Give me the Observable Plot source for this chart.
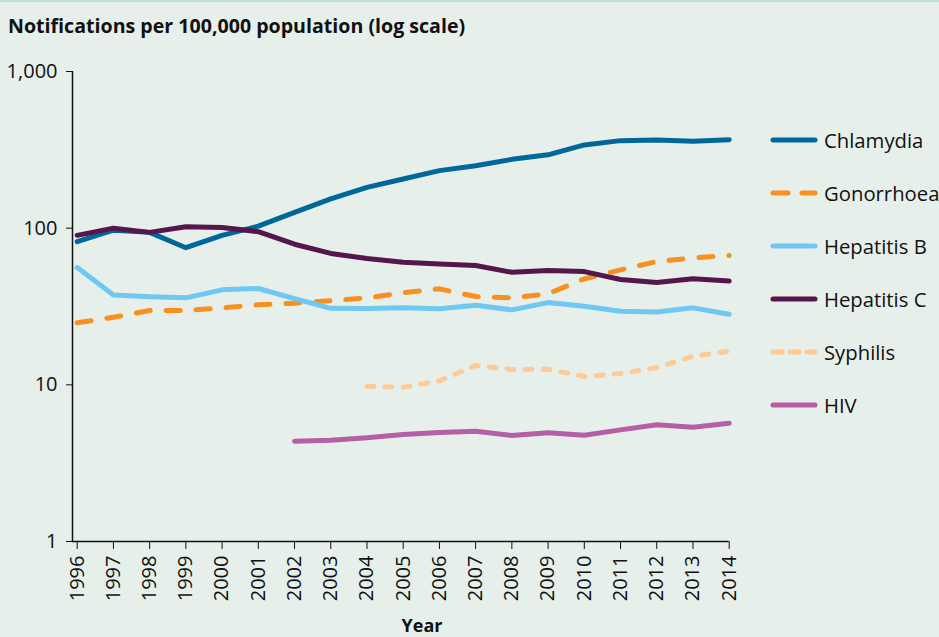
<!DOCTYPE html>
<html><head><meta charset="utf-8">
<script src="https://cdn.jsdelivr.net/npm/d3@7"></script>
<script src="https://cdn.jsdelivr.net/npm/@observablehq/plot@0.6"></script>
<style>
html,body{margin:0;padding:0;background:#e6efea;}
#wrap{position:relative;width:939px;height:637px;overflow:hidden;background:#e6efea;font-family:"Open Sans",sans-serif;color:#111;}
#topline{position:absolute;left:0;top:0;width:939px;height:2px;background:#bfe0da;}
#title{position:absolute;left:8px;top:13px;font-size:19.6px;font-weight:700;white-space:nowrap;line-height:26px;}
#chart{position:absolute;left:0;top:50px;}
#xlabel{position:absolute;left:422px;top:613px;transform:translateX(-50%);font-size:18px;font-weight:700;}
#legend{position:absolute;left:770px;top:126px;}
.item{height:53px;display:flex;align-items:flex-start;}
.item svg{margin-top:7px;}
.item span{font-size:20.3px;margin-left:6px;line-height:28px;}
</style></head>
<body>
<div id="wrap">
<div id="topline"></div>
<div id="title">Notifications per 100,000 population (log scale)</div>
<div id="chart"></div>
<div id="xlabel">Year</div>
<div id="legend"></div>
</div>
<script>
const years = [1996,1997,1998,1999,2000,2001,2002,2003,2004,2005,2006,2007,2008,2009,2010,2011,2012,2013,2014];
const chlamydia  = [82,97,94,75,90,103,126,154,182,206,233,250,275,294,340,362,366,359,367];
const gonorrhoea = [24.9,27,29.8,29.8,31,32.4,33.2,34.4,35.9,38.7,41,36.6,35.9,38.1,47.5,54.2,61.2,64.6,66.9];
const hepatitisB = [56,37.5,36.5,35.9,40.4,41.2,35.5,30.8,30.7,31,30.6,32.2,30.1,33.5,31.7,29.5,29.2,31,28.2];
const hepatitisC = [90,100,94,102,101,95,79,69,64,60.6,59,57.7,52.3,53.6,52.8,47,45,47.5,46];
const syphilis   = [null,null,null,null,null,null,null,null,9.8,9.66,10.6,13.3,12.5,12.6,11.3,11.8,12.9,15.2,16.4];
const hiv        = [null,null,null,null,null,null,4.37,4.43,4.59,4.82,4.96,5.06,4.75,4.94,4.77,5.16,5.56,5.36,5.69];
const seriesNames = ["Chlamydia","Gonorrhoea","Hepatitis B","Hepatitis C","Syphilis","HIV"];
const yTicks = [1,10,100,1000];
const yTickLabels = ["1","10","100","1,000"];

const seriesValues = [chlamydia, gonorrhoea, hepatitisB, hepatitisC, syphilis, hiv];
const styles = [
  {stroke:"#00679b", dash:null},
  {stroke:"#f7901e", dash:"14,16"},
  {stroke:"#6ec8f1", dash:null},
  {stroke:"#55154d", dash:null},
  {stroke:"#fdca98", dash:"7,11"},
  {stroke:"#b55fa6", dash:null}
];

const rows = [];
seriesNames.forEach((name, i) => {
  years.forEach((yr, j) => {
    const v = seriesValues[i][j];
    if (v != null) rows.push({series: name, year: yr, value: v});
  });
});

const lineMarks = seriesNames.map((name, i) =>
  Plot.line(rows.filter(d => d.series === name), {
    x: "year", y: "value",
    stroke: styles[i].stroke, strokeWidth: 5,
    strokeDasharray: styles[i].dash || undefined,
    strokeLinecap: "round", strokeLinejoin: "round"
  })
);

const chart = Plot.plot({
  width: 939,
  height: 562,
  marginLeft: 72,
  marginRight: 210.3,
  marginTop: 21,
  marginBottom: 71,
  insetLeft: 4.7,
  style: {background: "transparent", fontFamily: "Open Sans, sans-serif", fontSize: "20px", color: "#111"},
  x: {type: "linear", domain: [1996, 2014]},
  y: {type: "log", domain: [1, 1000]},
  marks: [
    Plot.axisX({ticks: years, tickFormat: d => String(d), tickRotate: -90, tickSize: 8, tickPadding: 6, label: null, fontSize: 20, stroke: "#111"}),
    Plot.axisY({ticks: yTicks, tickFormat: (d) => yTickLabels[yTicks.indexOf(d)], tickSize: 6, tickPadding: 9, label: null, fontSize: 20, stroke: "#111"}),
    Plot.ruleY([1], {stroke: "#111", strokeWidth: 1.5}),
    Plot.ruleX([1996], {dx: -4.7, stroke: "#111", strokeWidth: 1.5}),
    ...lineMarks
  ]
});
document.getElementById("chart").appendChild(chart);

// legend
const legend = document.getElementById("legend");
seriesNames.forEach((name, i) => {
  const item = document.createElement("div");
  item.className = "item";
  const dash = i === 1 ? "15,14" : (i === 4 ? "9,8" : null);
  item.innerHTML = `<svg width="48" height="14"><line x1="3" y1="7" x2="45" y2="7" stroke="${styles[i].stroke}" stroke-width="5" stroke-linecap="round" ${dash ? `stroke-dasharray="${dash}"` : ""}/></svg><span>${name}</span>`;
  legend.appendChild(item);
});
</script>
</body></html>
